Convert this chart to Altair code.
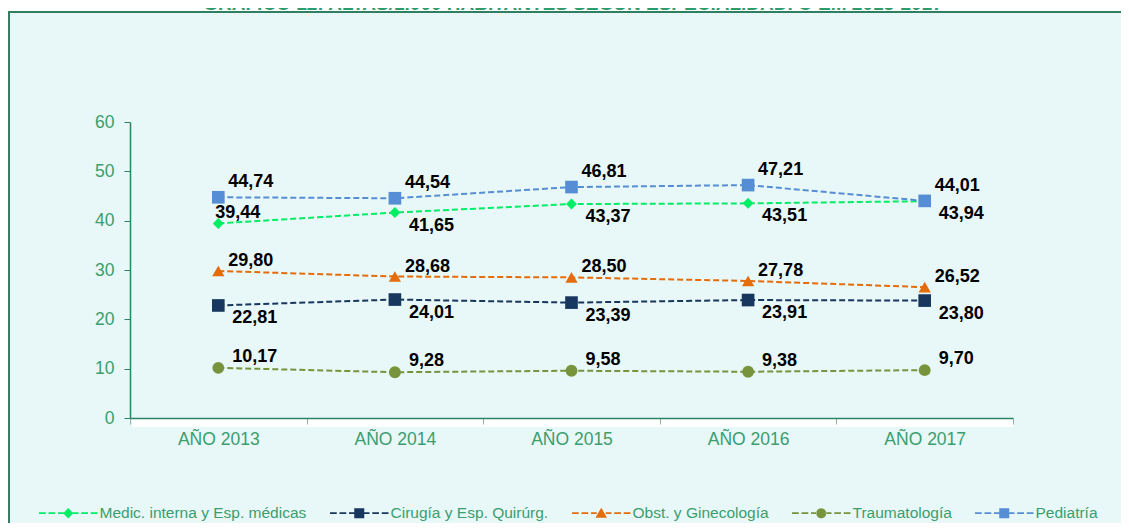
import altair as alt
import pandas as pd

# ---------------- data ----------------
YEARS = ["AÑO 2013", "AÑO 2014", "AÑO 2015", "AÑO 2016", "AÑO 2017"]
SERIES = ["Medic. interna y Esp. médicas", "Cirugía y Esp. Quirúrg.",
          "Obst. y Ginecología", "Traumatología", "Pediatría"]
MEDIC = [39.44, 41.65, 43.37, 43.51, 43.94]
CIRUGIA = [22.81, 24.01, 23.39, 23.91, 23.80]
OBST = [29.80, 28.68, 28.50, 27.78, 26.52]
TRAUMA = [10.17, 9.28, 9.58, 9.38, 9.70]
PEDIATRIA = [44.74, 44.54, 46.81, 47.21, 44.01]
Y_TICKS = [0, 10, 20, 30, 40, 50, 60]
TITLE = "GRÁFICO 12: ALTAS/1.000 HABITANTES SEGÚN ESPECIALIDAD. C-EM 2013-2017"

VALUES = [MEDIC, CIRUGIA, OBST, TRAUMA, PEDIATRIA]
rows = []
for s, vals in zip(SERIES, VALUES):
    for y, v in zip(YEARS, vals):
        rows.append({"year": y, "series": s, "value": v})
df = pd.DataFrame(rows)

# ---------------- styles ----------------
COLORS = ["#00EE66", "#17375E", "#E46C0A", "#77933C", "#558ED5"]
SHAPES = ["diamond", "square", "triangle-up", "circle", "square"]
SIZES = [120, 160, 150, 140, 160]
LABEL_OFFSETS = [(14, 13), (14, 13), (10, -10), (14, -11), (10, -15)]
GREEN_TXT = "#3A9E6E"
GREEN_AX = "#2A8565"
FRAME = "#2F7F60"
BG = "#E8F7F7"
FONT = "Liberation Sans"

W, H = 883, 296
PAD = {"left": 122, "top": 114, "right": 108, "bottom": 105}

dash = "M-5.85,-0.18L-4.5,-0.18L-4.5,0.18L-5.85,0.18Z" \
       "M-3.95,-0.18L-2.6,-0.18L-2.6,0.18L-3.95,0.18Z" \
       "M-2.05,-0.18L-0.9,-0.18L-0.9,0.18L-2.05,0.18Z" \
       "M0.9,-0.18L2.05,-0.18L2.05,0.18L0.9,0.18Z" \
       "M2.6,-0.18L3.95,-0.18L3.95,0.18L2.6,0.18Z" \
       "M4.5,-0.18L5.85,-0.18L5.85,0.18L4.5,0.18Z"
LEGEND_PATHS = [
    dash + "M0,-1.05L1,0L0,1.05L-1,0Z",
    dash + "M-1,-1L1,-1L1,1L-1,1Z",
    dash + "M0,-1.1L1.15,0.9L-1.15,0.9Z",
    dash + "M-1,0A1,1,0,1,0,1,0A1,1,0,1,0,-1,0Z",
    dash + "M-1,-1L1,-1L1,1L-1,1Z",
]

x_enc = alt.X("year:N", sort=YEARS,
              scale=alt.Scale(type="band", domain=YEARS, paddingInner=0, paddingOuter=0),
              axis=alt.Axis(title=None, labelAngle=0, labelFont=FONT, labelFontSize=17.5,
                            labelColor=GREEN_TXT, labelPadding=6, domainColor=GREEN_AX,
                            domainWidth=1.5, tickBand="extent", tickSize=6,
                            tickColor="#8DB7A6", zindex=1))
y_enc = alt.Y("value:Q", scale=alt.Scale(domain=[0, 60], nice=False),
              axis=alt.Axis(title=None, values=Y_TICKS, grid=False, labelFont=FONT,
                            labelFontSize=17.5, labelColor=GREEN_TXT, labelPadding=10,
                            domainColor=GREEN_AX, domainWidth=1.5, tickColor=GREEN_AX,
                            tickSize=6, zindex=1))

one = alt.Data(values=[{}])

frame = alt.Chart(one).mark_rect(fill=BG).encode(
    x=alt.value(-PAD["left"] + 1), x2=alt.value(W + PAD["right"]),
    y=alt.value(-110), y2=alt.value(H + PAD["bottom"]))
frame_left = alt.Chart(one).mark_rule(color=FRAME, strokeWidth=2).encode(
    x=alt.value(-PAD["left"] + 1), y=alt.value(-111), y2=alt.value(H + PAD["bottom"]))
frame_top = alt.Chart(one).mark_rule(color=FRAME, strokeWidth=2).encode(
    x=alt.value(-PAD["left"]), x2=alt.value(W + PAD["right"]), y=alt.value(-110))

strip = alt.Chart(one).mark_rect(fill="white").encode(
    x=alt.value(2), x2=alt.value(W), y=alt.value(H + 1), y2=alt.value(H + 9))

title = alt.Chart(one).mark_text(text=TITLE, font=FONT, fontSize=19, fontWeight="bold",
                                 color="#2E9B6B", align="center",
                                 baseline="alphabetic").encode(
    x=alt.value(443), y=alt.value(-112))

lines = []
points = []
labels = []
for s, c, sh, sz, (dx, dy) in zip(SERIES, COLORS, SHAPES, SIZES, LABEL_OFFSETS):
    base = alt.Chart(df).transform_filter(alt.datum.series == s)
    lines.append(base.mark_line(strokeDash=[6, 3], strokeWidth=2, color=c)
                 .encode(x=x_enc, y=y_enc))
    points.append(base.mark_point(shape=sh, filled=True, size=sz, color=c, opacity=1)
                  .encode(x=x_enc, y=y_enc))
    lab = base.transform_calculate(
        label="replace(format(datum.value, '.2f'), '.', ',')")
    if s == SERIES[0]:
        labels.append(lab.transform_filter(alt.datum.year == YEARS[0])
                      .mark_text(align="left", baseline="middle", dx=-3, dy=-10, font=FONT,
                                 fontSize=18, fontWeight="bold", color="black")
                      .encode(x=x_enc, y=y_enc, text="label:N"))
        lab = lab.transform_filter(alt.datum.year != YEARS[0])
    labels.append(lab.mark_text(align="left", baseline="middle", dx=dx, dy=dy, font=FONT,
                                fontSize=18, fontWeight="bold", color="black")
                  .encode(x=x_enc, y=y_enc, text="label:N"))

legend = alt.Legend(title=None, orient="none", legendX=-92, legendY=383,
                    direction="horizontal", columns=5, symbolSize=100,
                    symbolStrokeWidth=0, symbolOffset=22.5, labelOffset=23.5,
                    labelFont=FONT, labelFontSize=15.5, labelColor=GREEN_TXT,
                    labelLimit=400, columnPadding=22, symbolOpacity=1, zindex=1)

legend_layer = alt.Chart(df).mark_point(filled=True, opacity=0).encode(
    x=x_enc, y=y_enc,
    color=alt.Color("series:N", scale=alt.Scale(domain=SERIES, range=COLORS), legend=legend),
    shape=alt.Shape("series:N", scale=alt.Scale(domain=SERIES, range=LEGEND_PATHS),
                    legend=legend))

chart = alt.layer(frame, frame_left, frame_top, strip, title, *lines, *points, *labels,
                  legend_layer).properties(
    width=W, height=H,
    padding=PAD,
    autosize=alt.AutoSizeParams(type="none"),
    background="white",
).configure_view(stroke=None)

chart.save("out.html", embed_options={"renderer": "svg", "actions": False})
